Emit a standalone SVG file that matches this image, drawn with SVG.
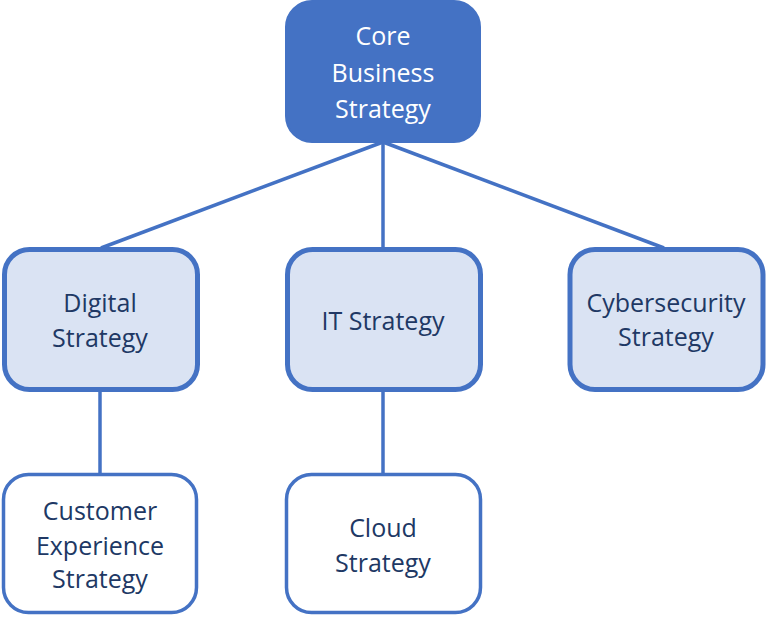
<svg xmlns="http://www.w3.org/2000/svg" width="768" height="617" viewBox="0 0 768 617">
<style>
.core{fill:#4472c4;stroke:#4472c4;stroke-width:2}
.mid{fill:#dae3f3;stroke:#4472c4;stroke-width:5}
.leaf{fill:#ffffff;stroke:#4472c4;stroke-width:3.5}
.t{font-family:"Open Sans","Noto Sans",sans-serif;font-size:25px;text-anchor:middle;fill:#203864}
.tw{fill:#ffffff}
.c line{stroke:#4472c4;stroke-width:3.5}
</style>
<rect width="768" height="617" fill="#ffffff"/>
<g class="c" id="connectors">
<line x1="383" y1="142" x2="101" y2="248"/>
<line x1="383" y1="142" x2="383" y2="248"/>
<line x1="383" y1="142" x2="664" y2="248"/>
<line x1="100" y1="391" x2="100" y2="474"/>
<line x1="383" y1="391" x2="383" y2="474"/>
</g>
<g id="core">
<rect class="core" x="286" y="1" width="194" height="141" rx="26"/>
<text class="t tw" x="383" y="45">Core</text>
<text class="t tw" x="383" y="82">Business</text>
<text class="t tw" x="383" y="118">Strategy</text>
</g>
<g id="digital">
<rect class="mid" x="4.5" y="249.5" width="193" height="140" rx="25"/>
<text class="t" x="100" y="312">Digital</text>
<text class="t" x="100" y="347">Strategy</text>
</g>
<g id="it">
<rect class="mid" x="287.5" y="249.5" width="193" height="140" rx="25"/>
<text class="t" x="383" y="330">IT Strategy</text>
</g>
<g id="cyber">
<rect class="mid" x="570" y="249.5" width="193" height="140" rx="25"/>
<text class="t" x="666" y="312">Cybersecurity</text>
<text class="t" x="666" y="346">Strategy</text>
</g>
<g id="customer">
<rect class="leaf" x="3.5" y="474.5" width="193" height="138" rx="25"/>
<text class="t" x="100" y="520">Customer</text>
<text class="t" x="100" y="555">Experience</text>
<text class="t" x="100" y="588">Strategy</text>
</g>
<g id="cloud">
<rect class="leaf" x="286.5" y="474.5" width="194" height="138" rx="25"/>
<text class="t" x="383" y="537">Cloud</text>
<text class="t" x="383" y="572">Strategy</text>
</g>
</svg>
